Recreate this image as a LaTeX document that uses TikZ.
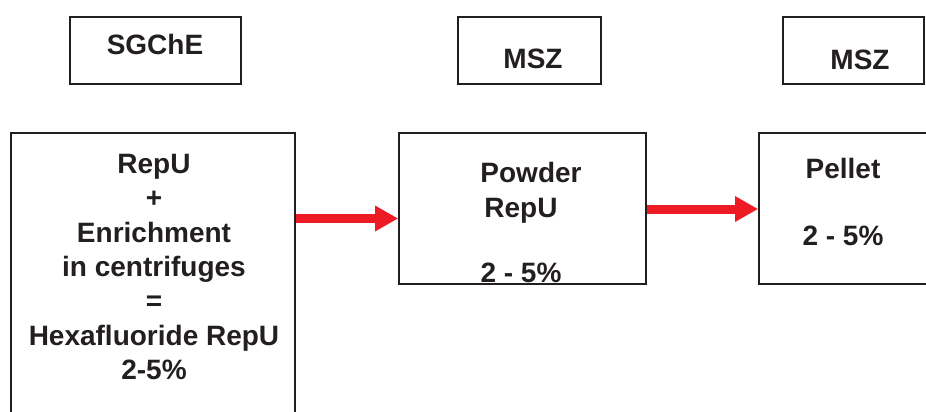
\documentclass[tikz,border=0pt]{standalone}
\usepackage{fontspec}
\setmainfont{Liberation Sans}
\usetikzlibrary{arrows.meta}
\definecolor{linegray}{HTML}{231F20}
\definecolor{arrred}{HTML}{ED1C24}
\tikzset{
  box/.style={draw=linegray, line width=1.6pt, rectangle, inner sep=0pt},
  txt/.style={font=\fontsize{28}{34.4}\selectfont\bfseries, text=linegray, align=center, inner sep=0pt},
  redarrow/.style={draw=arrred, line width=9pt, -{Triangle[length=23pt,width=24pt]}}
}
\begin{document}
\begin{tikzpicture}[x=1pt,y=-1pt]
\useasboundingbox (0,0) rectangle (926,412);
\clip (0,0) rectangle (926,412);
% top labels
\node[box, minimum width=171pt, minimum height=67pt] (sgche) at (155.5,50.5) {};
\node[txt, anchor=base] (sgchet) at (155,55) {SGChE};
\node[box, minimum width=143pt, minimum height=67pt] (msz1) at (529.5,50.5) {};
\node[txt, anchor=base] (msz1t) at (533,68) {MSZ};
\node[box, minimum width=141pt, minimum height=67pt] (msz2) at (853.5,50.5) {};
\node[txt, anchor=base] (msz2t) at (860,70) {MSZ};
% process boxes
\node[box, minimum width=284pt, minimum height=300pt] (big) at (153,283) {};
\node[txt] (bigt) at (154,267) {RepU\\+\\Enrichment\\in centrifuges\\=\\Hexafluoride RepU\\2-5\%};
\node[box, minimum width=247pt, minimum height=151pt] (powder) at (522.5,208.5) {};
\node[txt, anchor=base] (powt1) at (531,182) {Powder};
\node[txt, anchor=base] (powt2) at (521,217) {RepU};
\node[txt, anchor=base] (powt3) at (521,282) {2 - 5\%};
\node[box, minimum width=200pt, minimum height=151pt] (pellet) at (859,208.5) {};
\node[txt, anchor=base] (pelt1) at (843,178) {Pellet};
\node[txt, anchor=base] (pelt2) at (843,245) {2 - 5\%};
% arrows
\draw[redarrow] (big.east |- 0,218.5) -- (powder.west |- 0,218.5);
\draw[redarrow] (powder.east |- 0,209) -- (pellet.west |- 0,209);
\end{tikzpicture}
\end{document}
